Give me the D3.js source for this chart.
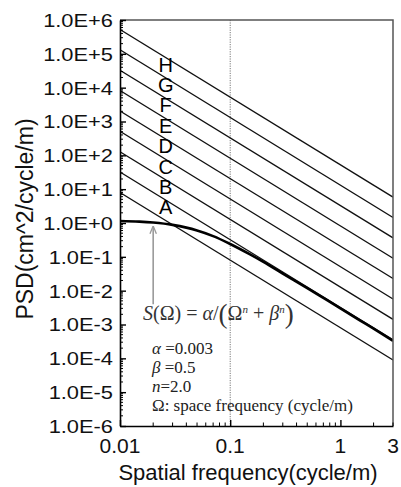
<!DOCTYPE html>
<html>
<head>
<meta charset="utf-8">
<script src="https://cdn.jsdelivr.net/npm/d3@7"></script>
<style>
  body { margin: 0; background: #fff; }
  svg { display: block; }
</style>
</head>
<body>
<svg id="chart" width="401" height="487"></svg>
<script>
// Road roughness PSD curve S(Ω) read along spatial frequency
const freq = [0.01, 0.015, 0.02, 0.03, 0.04, 0.05, 0.07, 0.1, 0.15, 0.2, 0.3, 0.5, 0.7, 1, 1.5, 2, 3];
const psd  = [1.15, 1.10, 1.03, 0.88, 0.73, 0.60, 0.41, 0.24, 0.12, 0.071, 0.032, 0.0119, 0.0061, 0.0030, 0.00133, 0.00075, 0.00033];

// Road class boundary lines (A..H), value at the low and high frequency ends
const classLetters   = ["A", "B", "C", "D", "E", "F", "G", "H"];
const boundaryLowF   = 0.01;
const boundaryHighF  = 3;
const boundaryAtLow  = [8, 32, 128, 512, 2048, 8192, 32768, 131072, 524288];
const boundaryAtHigh = [8.9e-5, 3.56e-4, 1.42e-3, 5.69e-3, 0.0228, 0.091, 0.364, 1.456, 5.83];
const letterFreq = 0.026;

// Reference frequency marker and arrow
const refFreq = 0.1;
const arrowFreq = 0.02;
const arrowFrom = 0.004;
const arrowTo = 0.78;

// Axis ticks
const xMajor = [0.01, 0.1, 1];
const xMinor = [0.02, 0.03, 0.04, 0.05, 0.06, 0.07, 0.08, 0.09, 0.2, 0.3, 0.4, 0.5, 0.6, 0.7, 0.8, 0.9, 2, 3];
const xTickLabels = [[0.01, "0.01"], [0.1, "0.1"], [1, "1"], [3, "3"]];
const yExponents = [-6, -5, -4, -3, -2, -1, 0, 1, 2, 3, 4, 5, 6];

const svg = d3.select("#chart");
const plotLeft = 120, plotRight = 393, plotTop = 20, plotBottom = 426;

const x = d3.scaleLog().domain([0.01, 3]).range([plotLeft, plotRight]);
const y = d3.scaleLog().domain([1e-6, 1e6]).range([plotBottom, plotTop]);

const sans = "'Liberation Sans', Arial, Helvetica, sans-serif";
const serif = "'Liberation Serif', 'Times New Roman', Times, serif";

const defs = svg.append("defs");
defs.append("clipPath").attr("id", "plot-clip")
  .append("rect").attr("x", plotLeft).attr("y", plotTop)
  .attr("width", plotRight - plotLeft).attr("height", plotBottom - plotTop);

// dotted reference line at 0.1 cycle/m
svg.append("line")
  .attr("x1", x(refFreq)).attr("x2", x(refFreq))
  .attr("y1", y(1e6)).attr("y2", y(1e-6))
  .attr("stroke", "#777").attr("stroke-width", 1)
  .attr("stroke-dasharray", "1.2,1.2");

const plot = svg.append("g").attr("clip-path", "url(#plot-clip)");

// class boundary lines
plot.selectAll("line.boundary")
  .data(d3.range(boundaryAtLow.length))
  .join("line")
  .attr("class", "boundary")
  .attr("x1", x(boundaryLowF)).attr("y1", i => y(boundaryAtLow[i]))
  .attr("x2", x(boundaryHighF)).attr("y2", i => y(boundaryAtHigh[i]))
  .attr("stroke", "#111").attr("stroke-width", 1.3);

// PSD curve
const line = d3.line()
  .x(d => x(d[0])).y(d => y(d[1]))
  .curve(d3.curveMonotoneX);
plot.append("path")
  .datum(freq.map((f, i) => [f, psd[i]]))
  .attr("d", line)
  .attr("fill", "none").attr("stroke", "#000").attr("stroke-width", 2.6);

// class letters placed between neighbouring boundaries
const lowAt = (i, f) => boundaryAtLow[i] * Math.pow(boundaryLowF / f, 2);
svg.selectAll("text.cls")
  .data(classLetters)
  .join("text")
  .attr("class", "cls")
  .attr("x", x(letterFreq))
  .attr("y", (d, i) => (y(lowAt(i, letterFreq)) + y(lowAt(i + 1, letterFreq))) / 2 + 4)
  .attr("text-anchor", "middle")
  .attr("font-family", sans).attr("font-size", 20)
  .attr("fill", "#000")
  .text(d => d);

// gray arrow pointing to the curve
defs.append("marker")
  .attr("id", "arrowhead").attr("viewBox", "0 0 10 10")
  .attr("refX", 9).attr("refY", 5)
  .attr("markerWidth", 5).attr("markerHeight", 5)
  .attr("orient", "auto")
  .append("path").attr("d", "M0,1L10,5L0,9").attr("fill", "none")
  .attr("stroke", "#999").attr("stroke-width", 1.6);
svg.append("line")
  .attr("x1", x(arrowFreq)).attr("x2", x(arrowFreq))
  .attr("y1", y(arrowFrom)).attr("y2", y(arrowTo))
  .attr("stroke", "#9a9a9a").attr("stroke-width", 1.6)
  .attr("marker-end", "url(#arrowhead)");

// frame: top and right
svg.append("path")
  .attr("d", `M${plotLeft},${plotTop}H${plotRight}V${plotBottom}`)
  .attr("fill", "none").attr("stroke", "#555").attr("stroke-width", 1.5);

// y axis with inward ticks
const yMinor = [];
yExponents.slice(0, -1).forEach(e => { for (let m = 2; m <= 9; m++) yMinor.push(m * Math.pow(10, e)); });
const yAxis = d3.axisLeft(y)
  .tickValues(yExponents.map(e => Math.pow(10, e)))
  .tickSizeInner(-6).tickSizeOuter(0).tickFormat("");
const gy = svg.append("g").attr("transform", `translate(${plotLeft},0)`).call(yAxis);
gy.select(".domain").attr("stroke", "#000").attr("stroke-width", 1.6);
gy.selectAll(".tick line").attr("stroke", "#000").attr("stroke-width", 1.4);
gy.selectAll("line.minor").data(yMinor).join("line")
  .attr("class", "minor").attr("x1", 0).attr("x2", 3)
  .attr("y1", d => y(d)).attr("y2", d => y(d))
  .attr("stroke", "#000").attr("stroke-width", 1);

// y tick labels like 1.0E+6
const fmtE = e => "1.0E" + (e >= 0 ? "+" : "-") + Math.abs(e);
svg.selectAll("g.ylab").data(yExponents).join("g")
  .attr("class", "ylab")
  .attr("transform", e => `translate(113,${y(Math.pow(10, e))}) scale(1.15,1)`)
  .append("text")
  .attr("text-anchor", "end").attr("dy", "0.36em")
  .attr("font-family", sans).attr("font-size", 19).attr("fill", "#111")
  .text(fmtE);

// x axis with inward ticks
const xAxis = d3.axisBottom(x)
  .tickValues(xMajor).tickSizeInner(-6).tickSizeOuter(0).tickFormat("");
const gx = svg.append("g").attr("transform", `translate(0,${plotBottom})`).call(xAxis);
gx.select(".domain").attr("stroke", "#000").attr("stroke-width", 1.6);
gx.selectAll(".tick line").attr("stroke", "#000").attr("stroke-width", 1.4);
gx.selectAll("line.minor").data(xMinor).join("line")
  .attr("class", "minor").attr("y1", 0).attr("y2", -3.5)
  .attr("x1", d => x(d)).attr("x2", d => x(d))
  .attr("stroke", "#000").attr("stroke-width", 1);

svg.selectAll("text.xlab").data(xTickLabels).join("text")
  .attr("class", "xlab")
  .attr("x", d => x(d[0])).attr("y", 453)
  .attr("text-anchor", "middle")
  .attr("font-family", sans).attr("font-size", 21).attr("fill", "#111")
  .text(d => d[1]);

// axis titles
svg.append("text")
  .attr("x", 248).attr("y", 480)
  .attr("text-anchor", "middle")
  .attr("font-family", sans).attr("font-size", 22).attr("fill", "#111")
  .text("Spatial frequency(cycle/m)");
svg.append("text")
  .attr("transform", "translate(33,219) rotate(-90)")
  .attr("text-anchor", "middle")
  .attr("font-family", sans).attr("font-size", 23).attr("fill", "#111")
  .text("PSD(cm^2/cycle/m)");

// formula annotation
const f = svg.append("text")
  .attr("x", 143).attr("y", 320)
  .attr("font-family", serif).attr("font-size", 20).attr("fill", "#333");
f.append("tspan").attr("font-style", "italic").text("S");
f.append("tspan").text("(Ω) = ");
f.append("tspan").attr("font-style", "italic").text("α");
f.append("tspan").text("/");
f.append("tspan").attr("font-size", 27).attr("dy", 3).text("(");
f.append("tspan").attr("dy", -3).text("Ω");
f.append("tspan").attr("font-style", "italic").attr("font-size", 11).attr("dy", -7).text("n");
f.append("tspan").attr("dy", 7).text(" + ");
f.append("tspan").attr("font-style", "italic").text("β");
f.append("tspan").attr("font-style", "italic").attr("font-size", 11).attr("dy", -7).text("n");
f.append("tspan").attr("font-size", 27).attr("dy", 10).text(")");

const params = [
  [["α", true], [" =0.003", false]],
  [["β", true], [" =0.5", false]],
  [["n", true], ["=2.0", false]],
  [["Ω: space frequency (cycle/m)", false]]
];
const paramBaselines = [354, 373, 392, 411];
params.forEach((parts, i) => {
  const t = svg.append("text")
    .attr("x", 152).attr("y", paramBaselines[i])
    .attr("font-family", serif).attr("font-size", 17).attr("fill", "#222");
  parts.forEach(([s, it]) => t.append("tspan").attr("font-style", it ? "italic" : "normal").text(s));
});
</script>
</body>
</html>
